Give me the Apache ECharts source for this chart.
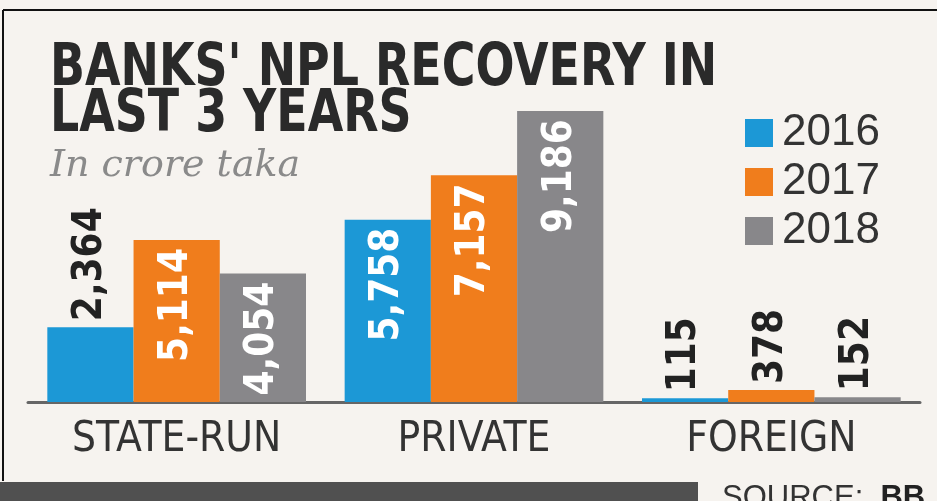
<!DOCTYPE html>
<html><head><meta charset="utf-8">
<script src="https://cdn.jsdelivr.net/npm/echarts@6/dist/echarts.min.js"></script>
<style>html,body{margin:0;padding:0;background:#f6f3ef}#c{width:937px;height:501px}</style>
</head><body><div id="c"></div>
<script>
const categories = ['STATE-RUN', 'PRIVATE', 'FOREIGN'];
const years = ['2016', '2017', '2018'];
const v2016 = [2364, 5758, 115];
const v2017 = [5114, 7157, 378];
const v2018 = [4054, 9186, 152];
const colors = ['#1c98d6', '#f07d1c', '#88878a'];
const titleLines = ["BANKS' NPL RECOVERY IN", 'LAST 3 YEARS'];
const subtitle = 'In crore taka';

const chart = echarts.init(document.getElementById('c'));
const narrow = '"DejaVu Sans Condensed", "DejaVu Sans", sans-serif';
function fmt(v){ return v.toLocaleString('en-US'); }
function mkData(arr){
  return arr.map(v => {
    const inside = v > 3000;
    return {
      value: v,
      label: inside ? {position:'insideTop', rotate:90, align:'right', verticalAlign:'middle', color:'#ffffff', distance:8}
                    : {position:'top', rotate:90, align:'left', verticalAlign:'middle', color:'#222222', distance:6}
    };
  });
}
const seriesVals = [v2016, v2017, v2018];
const series = years.map((y, i) => ({
  name: y, type: 'bar', data: mkData(seriesVals[i]),
  barGap: '0%', barCategoryGap: '13%',
  itemStyle: {color: colors[i]},
  label: {show: true, fontFamily: narrow, fontWeight: 'bold', fontSize: 40, formatter: p => fmt(p.value)}
}));

chart.setOption({
  backgroundColor: '#f6f3ef',
  animation: false,
  legend: {
    orient: 'vertical', left: 740, top: 106, itemWidth: 28, itemHeight: 28, itemGap: 5,
    icon: 'rect',
    textStyle: {fontFamily: 'Liberation Sans', fontSize: 44, color: '#333', padding: [0, 0, 0, 4]},
    data: years
  },
  grid: {left: 28, right: 17, top: 60, bottom: 99},
  xAxis: {
    type: 'category', data: categories,
    axisLine: {lineStyle: {color: '#666', width: 3}},
    axisTick: {show: false},
    axisLabel: {fontFamily: narrow, fontSize: 42, color: '#333', margin: 17}
  },
  yAxis: {type: 'value', min: 0, max: 10800, show: false, splitLine: {show: false}},
  series: series,
  graphic: [
    {type: 'line', shape: {x1: 3, y1: 10, x2: 937, y2: 10}, style: {stroke: '#111', lineWidth: 2}},
    {type: 'line', shape: {x1: 3, y1: 10, x2: 3, y2: 481}, style: {stroke: '#111', lineWidth: 2}},
    {type: 'text', x: 50, y: 70, scaleX: 0.88, style: {text: titleLines[0], fontFamily: narrow, fontWeight: 'bold', fontSize: 58, fill: '#2a2a2a', verticalAlign: 'middle'}},
    {type: 'text', x: 50, y: 116, scaleX: 0.88, style: {text: titleLines[1], fontFamily: narrow, fontWeight: 'bold', fontSize: 58, fill: '#2a2a2a', verticalAlign: 'middle'}},
    {type: 'text', x: 50, y: 166, style: {text: subtitle, fontFamily: '"DejaVu Serif"', fontStyle: 'italic', fontSize: 38, fill: '#8a8a8a', verticalAlign: 'middle'}},
    {type: 'rect', shape: {x: 0, y: 482, width: 698, height: 19}, style: {fill: '#505050'}},
    {type: 'text', x: 722, y: 483, style: {text: '{a|SOURCE:  }{b|BB}', rich: {a: {fontFamily: 'Liberation Sans', fontSize: 31, fill: '#333'}, b: {fontFamily: 'Liberation Sans', fontWeight: 'bold', fontSize: 31, fill: '#222'}}, verticalAlign: 'top'}}
  ]
});
</script></body></html>
